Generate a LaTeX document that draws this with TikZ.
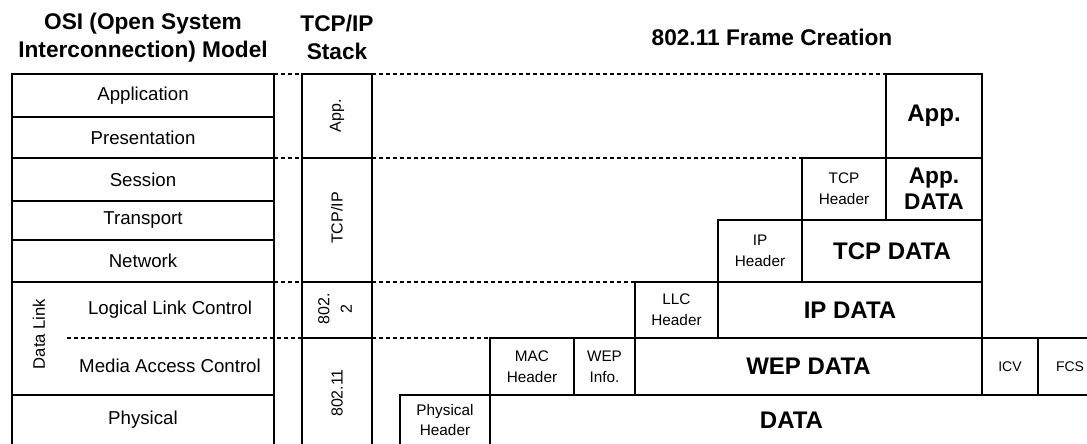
\documentclass[tikz,border=0pt]{standalone}
\usepackage{fontspec}
\setmainfont{Liberation Sans}
\newcommand\cell[7]{\node[cellbox,#6,minimum width={(#3-#1)*0.75pt},minimum height={(#4-#2)*0.75pt}] (#5) at ({(#1+#3)/2},{(#2+#4)/2}) {#7};}
\begin{document}
\begin{tikzpicture}[x=0.75pt,y=-0.75pt,
  cellbox/.style={draw,line width=1.2pt,inner sep=0pt,outer sep=0pt,align=center},
  osi/.style={font=\fontsize{14}{17}\selectfont},
  hdr/.style={font=\fontsize{11.5}{15.5}\selectfont},
  tiny/.style={font=\fontsize{10.5}{13}\selectfont},
  big/.style={font=\bfseries\fontsize{18}{19.5}\selectfont},
  ttl/.style={font=\bfseries\fontsize{17}{20.5}\selectfont,align=center,inner sep=0pt},
  rot/.style={rotate=90,font=\fontsize{12}{17}\selectfont,align=center,inner sep=0pt},
  dotline/.style={line width=1.1pt,dash pattern=on 3pt off 2.25pt}]
\useasboundingbox (0,0) rectangle (1087,443);
\clip (0,0) rectangle (1087,443);
% titles
\node[ttl] (t1) at (143,37.5) {OSI (Open System\\Interconnection) Model};
\node[ttl] (t2) at (337,37.5) {TCP/IP\\Stack};
\node[ttl] (t3) at (772,37) {802.11 Frame Creation};
% OSI model
\cell{12}{74}{274}{117}{app}{osi}{Application}
\cell{12}{117}{274}{158}{pres}{osi}{Presentation}
\cell{12}{158}{274}{201}{sess}{osi}{Session}
\cell{12}{201}{274}{240}{trans}{osi}{Transport}
\cell{12}{240}{274}{282}{net}{osi}{Network}
\cell{12}{282}{274}{395}{dlink}{}{}
\cell{12}{395}{274}{445}{phys}{osi}{Physical}
\node[osi] (llc) at (170,310) {Logical Link Control};
\node[osi] (mac) at (170,366) {Media Access Control};
\node[rot,font=\fontsize{12.5}{15}\selectfont] (dltxt) at (39,334) {Data Link};
\coordinate (dlstart) at (67,338);
% TCP/IP stack
\cell{302}{74}{372}{158}{tapp}{}{}
\cell{302}{158}{372}{282}{ttcp}{}{}
\cell{302}{282}{372}{338}{t8022}{}{}
\cell{302}{338}{372}{445}{t80211}{}{}
\node[rot] (tappl) at (337,116) {App.};
\node[rot] (ttcpl) at (337,218) {TCP/IP};
\node[rot] (t8022l) at (335,309) {802.\\2};
\node[rot] (t80211l) at (337,393) {802.11};
% frame creation
\cell{886}{74}{982}{158}{fapp}{big}{App.}
\cell{802}{158}{886}{220}{tcph}{hdr}{TCP\\Header}
\cell{886}{158}{982}{220}{appd}{big,font=\bfseries\fontsize{17}{19.5}\selectfont}{App.\\DATA}
\cell{718}{220}{802}{282}{iph}{hdr}{IP\\Header}
\cell{802}{220}{982}{282}{tcpd}{big}{TCP DATA}
\cell{635}{282}{718}{338}{llch}{hdr}{LLC\\Header}
\cell{718}{282}{982}{338}{ipd}{big}{IP DATA}
\cell{490}{338}{574}{395}{mach}{hdr}{MAC\\Header}
\cell{574}{338}{635}{395}{wepi}{hdr}{WEP\\Info.}
\cell{635}{338}{982}{395}{wepd}{big}{WEP DATA}
\cell{982}{338}{1038}{395}{icv}{tiny}{ICV}
\cell{1038}{338}{1102}{395}{fcs}{tiny}{FCS}
\cell{400}{395}{490}{445}{phyh}{hdr}{Physical\\Header}
\cell{490}{395}{1093}{445}{data}{big}{DATA}
% dotted layer boundaries
\draw[dotline] (app.north east) -- (tapp.north west);
\draw[dotline] (tapp.north east) -- (fapp.north west);
\draw[dotline] (pres.south east) -- (ttcp.north west);
\draw[dotline] (ttcp.north east) -- (tcph.north west);
\draw[dotline] (net.south east) -- (t8022.north west);
\draw[dotline] (t8022.north east) -- (llch.north west);
\draw[dotline] (dlstart) -- (t80211.north west);
\draw[dotline] (t80211.north east) -- (mach.north west);
\end{tikzpicture}
\end{document}
